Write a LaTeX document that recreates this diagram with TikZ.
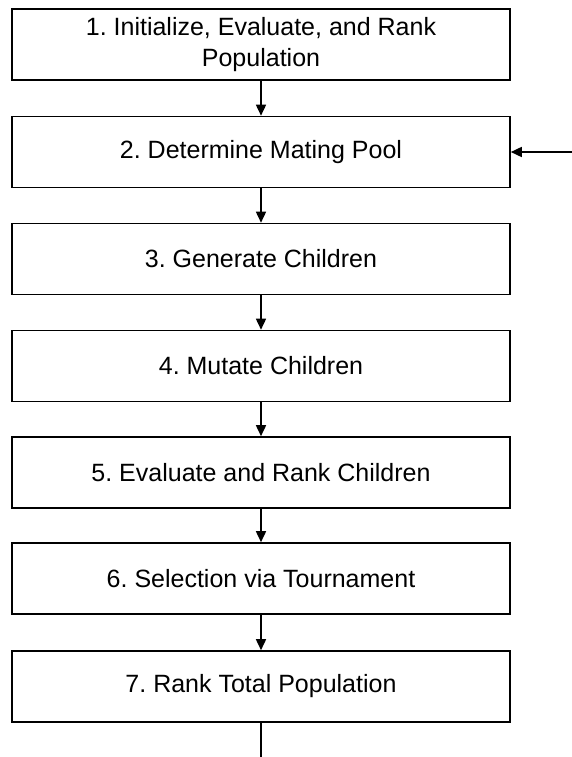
\documentclass[tikz,border=0pt]{standalone}
\usepackage{fontspec}
\setmainfont{Liberation Sans}
\usetikzlibrary{arrows.meta}
\begin{document}
\frenchspacing
\begin{tikzpicture}[x=1pt,y=-1pt,
  stepbox/.style={draw=black, line width=1.6pt, fill=white, minimum width=498pt, minimum height=71pt, inner sep=0pt, align=center, font=\fontsize{25}{31}\selectfont},
  conn/.style={line width=1.6pt, -{Triangle[length=11pt,width=10pt]}},
  plain/.style={line width=1.6pt}]
\useasboundingbox (0,0) rectangle (572,757);
\node[stepbox] (b1) at (261,44.5) {1. Initialize, Evaluate, and Rank\\Population};
\node[stepbox] (b2) at (261,152) {2. Determine Mating Pool};
\node[stepbox] (b3) at (261,259) {3. Generate Children};
\node[stepbox] (b4) at (261,366) {4. Mutate Children};
\node[stepbox] (b5) at (261,472.5) {5. Evaluate and Rank Children};
\node[stepbox] (b6) at (261,578.5) {6. Selection via Tournament};
\node[stepbox] (b7) at (261,686.5) {7. Rank Total Population};
\coordinate (in) at (572,152);
\coordinate (out) at (261,757);
\draw[conn] (b1) -- (b2);
\draw[conn] (b2) -- (b3);
\draw[conn] (b3) -- (b4);
\draw[conn] (b4) -- (b5);
\draw[conn] (b5) -- (b6);
\draw[conn] (b6) -- (b7);
\draw[conn] (in) -- (b2.east);
\draw[plain] (b7.south) -- (out);
\end{tikzpicture}
\end{document}
